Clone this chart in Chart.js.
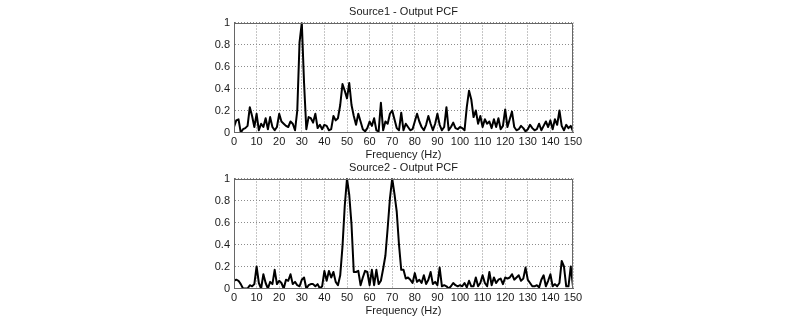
<!DOCTYPE html>
<html>
<head>
<meta charset="utf-8">
<script src="https://cdn.jsdelivr.net/npm/chart.js@4"></script>
<style>
  html, body { margin: 0; padding: 0; background: #fff; }
  body { width: 800px; height: 327px; position: relative; overflow: hidden; }
  .panel { position: absolute; left: 0; width: 800px; height: 163px; }
</style>
</head>
<body>
<div class="panel" style="top:0"><canvas id="pcf1" width="800" height="163"></canvas></div>
<div class="panel" style="top:156px"><canvas id="pcf2" width="800" height="163"></canvas></div>
<script>
// Frequency grid (Hz), 1 Hz bins
const freqHz = Array.from({ length: 151 }, (_, i) => i);

const freqTicks = [0, 10, 20, 30, 40, 50, 60, 70, 80, 90, 100, 110, 120, 130, 140, 150];
const pcfTicks = [0, 0.2, 0.4, 0.6, 0.8, 1];

const titles = ['Source1 - Output PCF', 'Source2 - Output PCF'];
const xAxisLabel = 'Frequency (Hz)';

// Normalised PCF, Source 1 (0..150 Hz)
const pcfSource1 = [
  0.05, 0.11, 0.12, 0.00, 0.03, 0.04, 0.06, 0.23, 0.15, 0.05,
  0.17, 0.02, 0.08, 0.05, 0.13, 0.03, 0.14, 0.05, 0.02, 0.05,
  0.17, 0.10, 0.08, 0.06, 0.05, 0.10, 0.08, 0.02, 0.20, 0.82,
  1.00, 0.45, 0.03, 0.14, 0.13, 0.09, 0.17, 0.04, 0.07, 0.03,
  0.07, 0.06, 0.02, 0.03, 0.15, 0.11, 0.13, 0.25, 0.44, 0.38,
  0.31, 0.45, 0.25, 0.15, 0.07, 0.17, 0.10, 0.03, 0.01, 0.04,
  0.10, 0.06, 0.13, 0.02, 0.01, 0.27, 0.02, 0.10, 0.08, 0.17,
  0.20, 0.12, 0.04, 0.02, 0.18, 0.02, 0.08, 0.05, 0.02, 0.03,
  0.10, 0.17, 0.10, 0.05, 0.02, 0.07, 0.15, 0.08, 0.02, 0.08,
  0.17, 0.07, 0.02, 0.05, 0.23, 0.02, 0.05, 0.09, 0.04, 0.03,
  0.05, 0.04, 0.02, 0.23, 0.38, 0.30, 0.14, 0.20, 0.08, 0.15,
  0.05, 0.12, 0.08, 0.10, 0.04, 0.12, 0.05, 0.13, 0.03, 0.06,
  0.21, 0.05, 0.12, 0.19, 0.05, 0.02, 0.03, 0.06, 0.04, 0.01,
  0.03, 0.07, 0.04, 0.02, 0.03, 0.08, 0.02, 0.06, 0.10, 0.05,
  0.11, 0.03, 0.12, 0.07, 0.20, 0.06, 0.02, 0.07, 0.04, 0.06,
  0.01
];

// Normalised PCF, Source 2 (0..150 Hz)
const pcfSource2 = [
  0.07, 0.08, 0.07, 0.04, 0.00, 0.00, 0.00, 0.03, 0.02, 0.04,
  0.20, 0.05, 0.00, 0.13, 0.05, 0.00, 0.06, 0.04, 0.17, 0.04,
  0.07, 0.05, 0.00, 0.08, 0.07, 0.13, 0.04, 0.06, 0.03, 0.02,
  0.08, 0.10, 0.00, 0.03, 0.04, 0.04, 0.02, 0.04, 0.00, 0.02,
  0.16, 0.07, 0.16, 0.10, 0.15, 0.06, 0.03, 0.12, 0.38, 0.75,
  1.00, 0.85, 0.58, 0.15, 0.15, 0.16, 0.03, 0.10, 0.16, 0.15,
  0.03, 0.17, 0.03, 0.17, 0.04, 0.07, 0.18, 0.30, 0.55, 0.82,
  1.00, 0.86, 0.70, 0.40, 0.17, 0.17, 0.09, 0.10, 0.08, 0.05,
  0.14, 0.06, 0.08, 0.05, 0.12, 0.04, 0.08, 0.15, 0.04, 0.06,
  0.03, 0.19, 0.02, 0.03, 0.02, 0.00, 0.02, 0.05, 0.03, 0.02,
  0.03, 0.02, 0.05, 0.01, 0.07, 0.02, 0.02, 0.10, 0.02, 0.05,
  0.12, 0.05, 0.02, 0.15, 0.03, 0.10, 0.05, 0.08, 0.09, 0.04,
  0.10, 0.09, 0.10, 0.13, 0.08, 0.10, 0.12, 0.07, 0.09, 0.19,
  0.08, 0.05, 0.02, 0.02, 0.03, 0.01, 0.08, 0.12, 0.02, 0.07,
  0.13, 0.02, 0.04, 0.02, 0.05, 0.25, 0.20, 0.02, 0.02, 0.20,
  0.02
];

const FONT = { family: "'Liberation Sans', Arial, sans-serif", size: 11, weight: 'normal' };
const INK = '#1a1a1a';
const GRID = '#8c8c8c';

function makePanel(canvasId, title, values) {
  const points = freqHz.map((f, i) => ({ x: f, y: values[i] }));
  return new Chart(document.getElementById(canvasId), {
    type: 'line',
    data: {
      datasets: [{
        data: points,
        borderColor: '#000',
        borderWidth: 2,
        borderJoinStyle: 'round',
        pointRadius: 0,
        tension: 0,
        fill: false
      }]
    },
    options: {
      responsive: false,
      animation: false,
      events: [],
      layout: { padding: { left: 204, right: 227, top: 0, bottom: 0 } },
      plugins: {
        legend: { display: false },
        tooltip: { enabled: false },
        title: {
          display: true,
          text: title,
          fullSize: false,
          color: INK,
          font: FONT,
          padding: { top: 5.4, bottom: 3.9 }
        }
      },
      scales: {
        x: {
          type: 'linear',
          min: 0,
          max: 150,
          afterBuildTicks: s => { s.ticks = freqTicks.map(v => ({ value: v })); },
          afterFit: s => { s.height = 30.5; },
          ticks: { color: INK, font: FONT, padding: 3, maxRotation: 0, autoSkip: false,
                   callback: v => String(v) },
          grid: { color: GRID, lineWidth: 1, drawTicks: false },
          border: { display: true, color: '#666', width: 1, dash: [1, 2] },
          title: { display: true, text: xAxisLabel, color: INK, font: FONT, padding: { top: 0, bottom: 1.4 } }
        },
        y: {
          type: 'linear',
          min: 0,
          max: 1,
          afterBuildTicks: s => { s.ticks = pcfTicks.map(v => ({ value: v })); },
          afterFit: s => { s.width = 30; },
          ticks: { color: INK, font: FONT, padding: 4,
                   callback: v => String(Number(v.toFixed(2))) },
          grid: { color: GRID, lineWidth: 1, drawTicks: false },
          border: { display: true, color: '#666', width: 1, dash: [1, 2] }
        }
      }
    },
    plugins: [{
      id: 'frame',
      afterDraw(chart) {
        const { ctx, chartArea: a } = chart;
        ctx.save();
        ctx.strokeStyle = '#666';
        ctx.lineWidth = 1;
        ctx.setLineDash([]);
        ctx.strokeRect(Math.round(a.left) + 0.5, Math.round(a.top) + 0.5,
          Math.round(a.right - a.left) - 1, Math.round(a.bottom - a.top) - 1);
        ctx.restore();
      }
    }]
  });
}

makePanel('pcf1', titles[0], pcfSource1);
makePanel('pcf2', titles[1], pcfSource2);
</script>
</body>
</html>
